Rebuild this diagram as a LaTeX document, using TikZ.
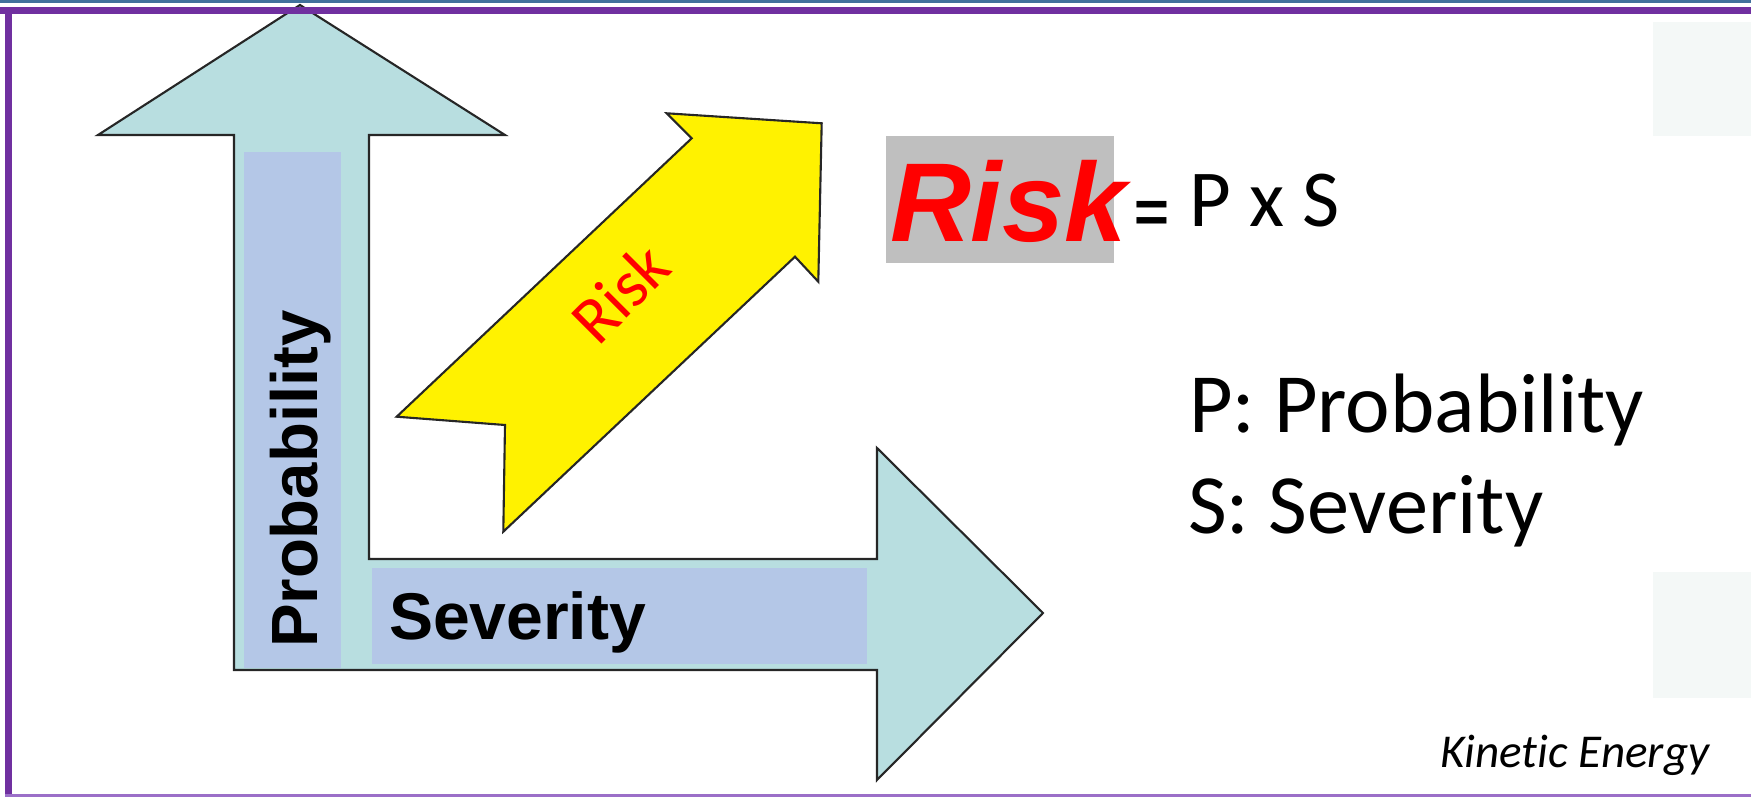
\documentclass[tikz,border=0pt]{standalone}
\usepackage{fontspec}
\setmainfont[Ligatures=NoCommon]{Carlito}
\newfontfamily\boldsans{Liberation Sans}
\definecolor{axisblue}{RGB}{184,222,224}
\definecolor{tagblue}{RGB}{180,199,231}
\definecolor{riskgrey}{RGB}{191,191,191}
\definecolor{framepurple}{RGB}{112,48,160}
\definecolor{framelilac}{RGB}{155,111,200}
\definecolor{framesteel}{RGB}{65,113,156}
\definecolor{fadegrey}{RGB}{244,248,247}
\tikzset{
	axisarrow/.style={fill=axisblue,draw=black!85,line width=.6pt},
	riskarrow/.style={fill=yellow,draw=black!85,line width=.6pt},
	tagbox/.style={fill=tagblue},
	plain/.style={inner sep=0pt,outer sep=0pt},
}
\begin{document}
\begin{tikzpicture}[x=1cm,y=-1cm]
	\useasboundingbox (0,0) rectangle (17.51,7.97);
	\begin{scope}
		\fill[fadegrey] (16.53,.22) rectangle (17.51,1.36);
		\fill[fadegrey] (16.53,5.72) rectangle (17.51,6.98);
	\end{scope}
	\begin{scope}
		\draw[axisarrow]
			(2.34,1.35) -- (.98,1.35) -- (3.00,.05) -- (5.05,1.35) -- (3.69,1.35)
			-- (3.69,5.59) -- (8.77,5.59) -- (8.77,4.48) -- (10.43,6.13)
			-- (8.77,7.80) -- (8.77,6.70) -- (2.34,6.70) -- cycle
		;
		\fill[tagbox] (2.44,1.52) rectangle (3.41,6.68);
		\fill[tagbox] (3.72,5.68) rectangle (8.67,6.64);
		\node[plain,anchor=base west,rotate=90] (probtxt) at (3.17,6.48)
			{\boldsans\bfseries\fontsize{18.6}{20}\selectfont Probability};
		\node[plain,anchor=base west] (sevtxt) at (3.89,6.40)
			{\boldsans\bfseries\fontsize{18.8}{20}\selectfont Severity};
	\end{scope}
	\begin{scope}
		\draw[riskarrow]
			(3.967,4.167) -- (5.05,4.25) -- (5.033,5.317) -- (7.95,2.567) -- (8.183,2.817)
			-- (8.217,1.233) -- (6.667,1.133) -- (6.917,1.383) -- cycle
		;
		\node[plain,text=red,rotate=45] (risktag) at (6.20,2.93)
			{\fontsize{19}{20}\selectfont Risk};
	\end{scope}
	\begin{scope}
		\fill[riskgrey] (8.86,1.36) rectangle (11.14,2.63);
		\node[plain,anchor=base west,text=red] (riskbig) at (8.90,2.42)
			{\boldsans\bfseries\itshape\fontsize{31.9}{34}\selectfont Risk};
		\node[plain,anchor=base] (eqsign) at (11.52,2.33)
			{\boldsans\bfseries\fontsize{17}{18}\selectfont =};
		\node[plain,anchor=base west] (formula) at (11.89,2.27)
			{\fontsize{23}{26}\selectfont P x S};
		\node[plain,anchor=base west] (pdef) at (11.89,4.33)
			{\fontsize{24}{28}\selectfont P: Probability};
		\node[plain,anchor=base west] (sdef) at (11.88,5.33)
			{\fontsize{24}{28}\selectfont S: Severity};
		\node[plain,anchor=base west] (source) at (14.40,7.68)
			{\itshape\fontsize{13.4}{15}\selectfont Kinetic Energy};
	\end{scope}
	\begin{scope}
		\fill[framesteel] (0,0) rectangle (17.51,.035);
		\fill[framepurple] (0,.07) rectangle (17.51,.14);
		\fill[framepurple] (.05,.07) rectangle (.12,7.97);
		\fill[framelilac] (.05,7.94) rectangle (17.51,7.97);
	\end{scope}
\end{tikzpicture}
\end{document}
